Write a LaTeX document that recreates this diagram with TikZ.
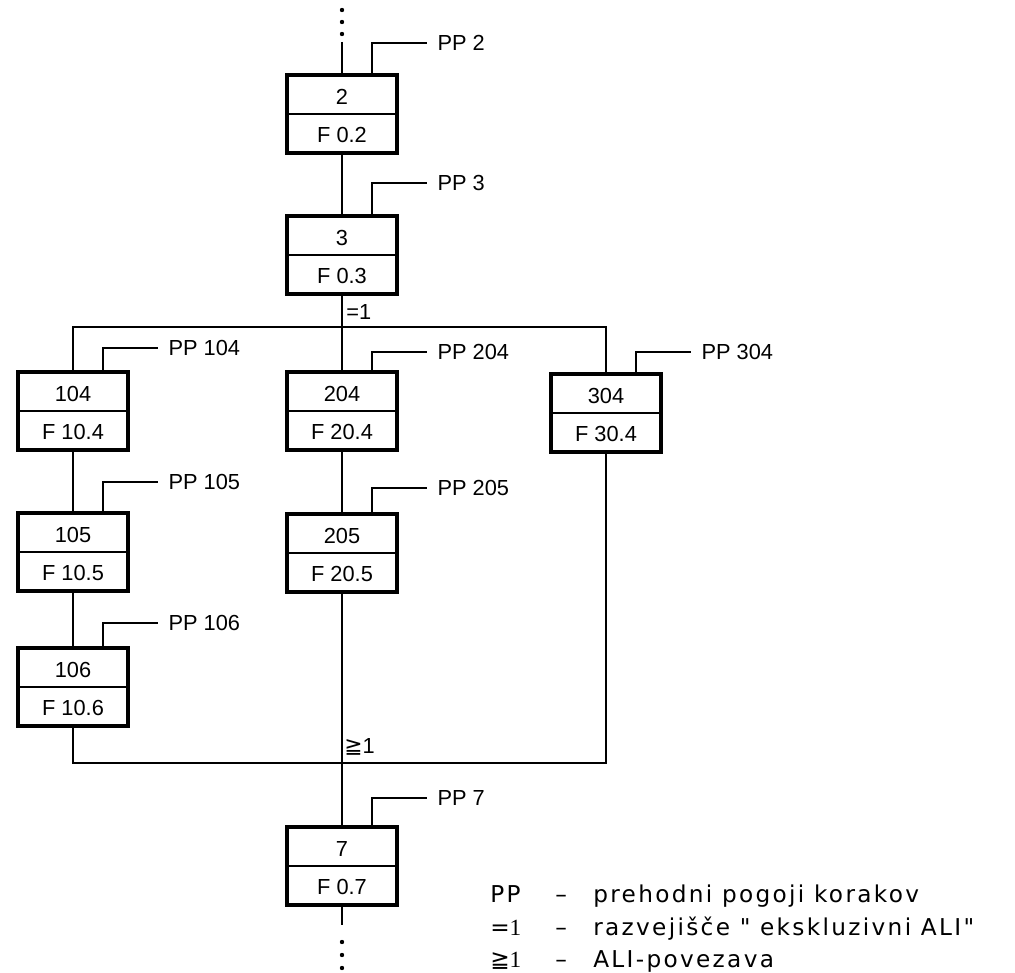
\documentclass[tikz,border=0pt]{standalone}
\usepackage{fontspec}
\setmainfont{Liberation Sans}[Ligatures=TeXOff]
\newfontfamily\legendfont{DejaVu Sans}[LetterSpace=10, Ligatures=TeXOff]
\newfontfamily\symfont{DejaVu Sans}
\newfontfamily\onefont{Liberation Serif}
\usetikzlibrary{positioning, calc}

\tikzset{
  stepbox/.style={draw, line width=2.4pt, minimum width=27.5mm, minimum height=19.5mm, inner sep=0pt},
  divider/.style={line width=0.8pt},
  link/.style={line width=0.9pt},
  steptext/.style={font=\fontsize{15.5}{18}\selectfont, inner sep=0pt},
  pplabel/.style={font=\fontsize{15.5}{18}\selectfont, anchor=west, inner sep=0pt, xshift=2.5mm},
  legend/.style={font=\legendfont\fontsize{16.5}{19}\selectfont, anchor=base west, inner sep=0pt}
}

\begin{document}
\begin{tikzpicture}[x=0.25mm, y=-0.25mm]
  \useasboundingbox (0,0) rectangle (1015,973);

  % steps with their transition conditions
  \foreach \n/\f/\x/\y/\py in {2/0.2/342/114/43, 3/0.3/342/255/183,
      104/10.4/73/411/348, 204/20.4/342/411/352, 304/30.4/606/413/352,
      105/10.5/73/552/482, 205/20.5/342/553/488, 106/10.6/73/687/623,
      7/0.7/342/866/798}{
    \node[stepbox] (s\n) at (\x,\y) {};
    \draw[divider] (s\n.west) -- (s\n.east);
    \node[steptext] (n\n) at (\x,\y-17) {\n};
    \node[steptext] (f\n) at (\x,\y+21) {F \f};
    \draw[link] ([xshift=7.5mm]s\n.north) |- (\x+85,\py) node[pplabel] (pp\n) {PP \n};
  }

  % branch and join points
  \coordinate (topin) at (342,42);
  \coordinate (split) at (342,327);
  \coordinate (join) at (342,763);
  \coordinate (botout) at (342,925);

  \foreach \d in {10,22,34} \fill (342,\d) circle (2.2);
  \foreach \d in {942,955,968} \fill (342,\d) circle (2.2);

  \draw[link] (topin) -- (s2.north);
  \draw[link] (s2.south) -- (s3.north);
  \draw[link] (s3.south) -- (s204.north);
  \draw[link] (s104.north) |- (split) -| (s304.north);
  \draw[link] (s104.south) -- (s105.north);
  \draw[link] (s105.south) -- (s106.north);
  \draw[link] (s204.south) -- (s205.north);
  \draw[link] (s205.south) -- (s7.north);
  \draw[link] (s106.south) |- (join) -| (s304.south);
  \draw[link] (s7.south) -- (botout);

  \node[steptext, anchor=west] (xor) at (346,312) {=1};
  \node[steptext, anchor=west] (orj) at (344,747) {{\symfont ≧}1};

  % legend
  \node[legend] (lpp) at (490,902) {PP};
  \node[legend] (lppd) at (555,902) {–};
  \node[legend] (lppt) at (593,902) {prehodni pogoji korakov};
  \node[legend] (lxor) at (490,935) {={\onefont 1}};
  \node[legend] (lxord) at (555,935) {–};
  \node[legend] (lxort) at (593,935) {razvejišče " ekskluzivni ALI"};
  \node[legend] (lor) at (490,967) {{\symfont ≧}{\onefont 1}};
  \node[legend] (lord) at (555,967) {–};
  \node[legend] (lort) at (593,967) {ALI-povezava};
\end{tikzpicture}
\end{document}
